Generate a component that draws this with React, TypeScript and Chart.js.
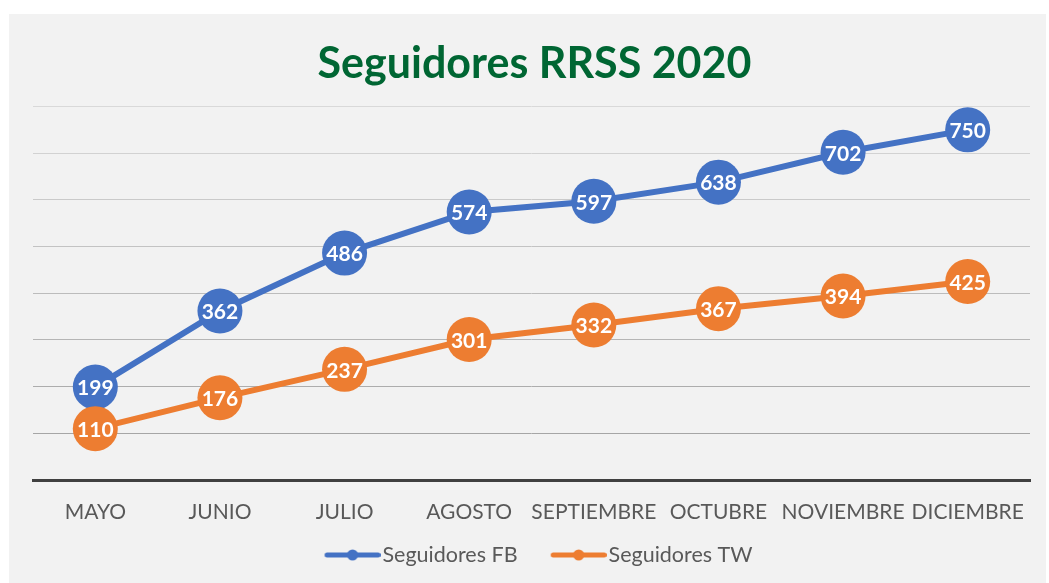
import React, { useEffect, useRef } from "react";
import { Chart, registerables } from "chart.js";

Chart.register(...registerables);

const categories = ["MAYO", "JUNIO", "JULIO", "AGOSTO", "SEPTIEMBRE", "OCTUBRE", "NOVIEMBRE", "DICIEMBRE"];
const seguidoresFB = [199, 362, 486, 574, 597, 638, 702, 750];
const seguidoresTW = [110, 176, 237, 301, 332, 367, 394, 425];
const seriesNames = ["Seguidores FB", "Seguidores TW"];
const yMin = 0;
const yMax = 800;
const yStep = 100;

const BLUE = "#4472C4";
const ORANGE = "#ED7D31";
const FONT = "Lato, 'Open Sans', sans-serif";

// Legend icon: transparent lead-in (item spacing) + line with a dot
function makeIcon(color: string): HTMLCanvasElement {
  const c = document.createElement("canvas");
  c.width = 98;
  c.height = 14;
  const g = c.getContext("2d")!;
  g.strokeStyle = color;
  g.lineWidth = 5;
  g.lineCap = "round";
  g.beginPath();
  g.moveTo(44.5, 7);
  g.lineTo(95.5, 7);
  g.stroke();
  g.fillStyle = color;
  g.beginPath();
  g.arc(70, 7, 5.5, 0, Math.PI * 2);
  g.fill();
  return c;
}

const valueLabels = {
  id: "valueLabels",
  afterDatasetsDraw(chart: any) {
    const ctx = chart.ctx;
    ctx.save();
    ctx.font = `bold 21px ${FONT}`;
    ctx.fillStyle = "#ffffff";
    ctx.textAlign = "center";
    ctx.textBaseline = "middle";
    chart.data.datasets.forEach((ds: any, i: number) => {
      const meta = chart.getDatasetMeta(i);
      meta.data.forEach((pt: any, j: number) => {
        ctx.fillText(String(ds.data[j]), pt.x, pt.y + 1.5);
      });
    });
    ctx.restore();
  },
};

const shiftBoxes = {
  id: "shiftBoxes",
  afterLayout(chart: any) {
    if (chart.legend) {
      chart.legend.left -= 9.5;
      chart.legend.right -= 9.5;
    }
    if (chart.titleBlock) {
      chart.titleBlock.left += 3;
      chart.titleBlock.right += 3;
    }
  },
};

export default function App() {
  const ref = useRef<HTMLCanvasElement | null>(null);

  useEffect(() => {
    if (!ref.current) return;
    const icons = [makeIcon(BLUE), makeIcon(ORANGE)];
    const chart = new Chart(ref.current, {
      type: "line",
      data: {
        labels: categories,
        datasets: [
          {
            label: seriesNames[0],
            data: seguidoresFB,
            borderColor: BLUE,
            backgroundColor: BLUE,
            borderWidth: 6,
            pointRadius: 22.5,
            pointHoverRadius: 22.5,
            pointBackgroundColor: BLUE,
            pointBorderWidth: 0,
            order: 1,
          },
          {
            label: seriesNames[1],
            data: seguidoresTW,
            borderColor: ORANGE,
            backgroundColor: ORANGE,
            borderWidth: 6,
            pointRadius: 22.5,
            pointHoverRadius: 22.5,
            pointBackgroundColor: ORANGE,
            pointBorderWidth: 0,
            order: 0,
          },
        ],
      },
      options: {
        responsive: false,
        animation: false,
        layout: { autoPadding: false, padding: { left: 24, right: 16, top: 0, bottom: 7.25 } },
        scales: {
          x: {
            offset: true,
            grid: { display: false, drawTicks: false },
            border: { display: true, color: "#404040", width: 3 },
            ticks: {
              color: "#595959",
              font: { family: FONT, size: 21 },
              padding: 20,
              maxRotation: 0,
              autoSkip: false,
            },
            afterFit: (scale: any) => {
              scale.height = 64.25;
            },
          },
          y: {
            min: yMin,
            max: yMax,
            ticks: { display: false, stepSize: yStep },
            border: { display: false },
            grid: {
              drawTicks: false,
              lineWidth: 1,
              color: (c: any) => {
                const v = c.tick ? c.tick.value : 0;
                const t = Math.max(0, Math.min(1, (v - 100) / 700));
                const g = Math.round(166 + t * (217 - 166));
                return `rgb(${g},${g},${g})`;
              },
            },
          },
        },
        plugins: {
          title: {
            display: true,
            text: "Seguidores RRSS 2020",
            color: "#006633",
            font: { family: FONT, size: 43, weight: "bold" },
            padding: { top: 24.2, bottom: 16.7 },
          },
          legend: {
            display: true,
            position: "bottom",
            labels: {
              usePointStyle: true,
              pointStyleWidth: 80.25,
              color: "#595959",
              font: { family: FONT, size: 21.5 },
              padding: 0,
              sort: (a: any, b: any) => a.datasetIndex - b.datasetIndex,
              generateLabels: (ch: any) => {
                const items = (Chart.defaults.plugins.legend.labels as any).generateLabels(ch);
                return items.map((it: any) => ({ ...it, pointStyle: icons[it.datasetIndex] }));
              },
            },
          },
          tooltip: { enabled: false },
        },
      } as any,
      plugins: [valueLabels, shiftBoxes],
    });
    return () => chart.destroy();
  }, []);

  return (
    <div
      style={{
        position: "absolute",
        left: 9,
        top: 14,
        width: 1037,
        height: 569,
        background: "#f2f2f2",
      }}
    >
      <canvas ref={ref} width={1037} height={569} style={{ width: 1037, height: 569, display: "block" }} />
    </div>
  );
}
